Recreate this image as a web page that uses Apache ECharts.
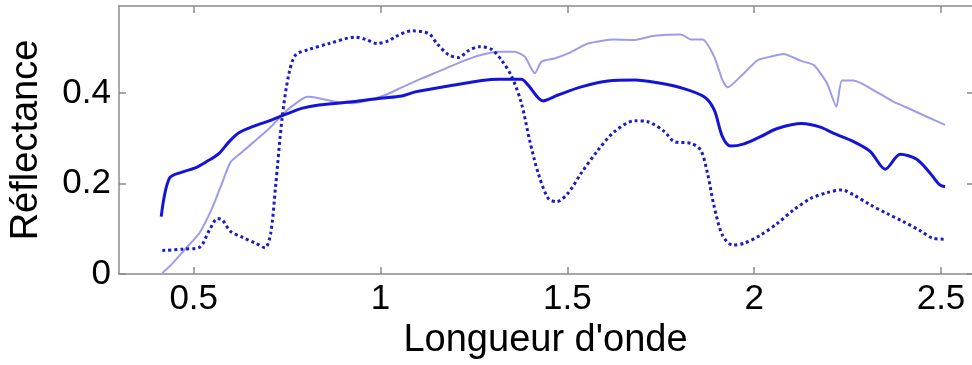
<!DOCTYPE html>
<html><head><meta charset="utf-8">
<script src="https://cdn.jsdelivr.net/npm/echarts@6/dist/echarts.min.js"></script>
<style>html,body{margin:0;padding:0;background:#fff}#c{width:972px;height:365px}</style>
</head><body><div id="c"></div>
<script>
const xTicks = [0.5, 1, 1.5, 2, 2.5];
const yTicks = [0, 0.2, 0.4];

const solidX = [0.413,0.435,0.471,0.502,0.533,0.568,0.595,0.622,0.657,0.702,0.742,0.791,0.835,0.924,1.0,1.057,1.093,1.182,1.271,1.315,1.377,1.395,1.435,1.475,1.537,1.609,1.68,1.742,1.804,1.866,1.893,1.915,1.937,1.973,2.017,2.062,2.128,2.177,2.213,2.266,2.311,2.351,2.391,2.435,2.471,2.497,2.511];
const solidY = [0.127,0.212,0.226,0.234,0.248,0.267,0.293,0.313,0.326,0.339,0.352,0.367,0.374,0.381,0.389,0.394,0.403,0.416,0.428,0.431,0.431,0.418,0.383,0.396,0.414,0.427,0.429,0.423,0.412,0.392,0.363,0.304,0.283,0.288,0.304,0.322,0.333,0.325,0.311,0.293,0.271,0.232,0.265,0.254,0.223,0.197,0.193];

const dotX = [0.416,0.471,0.515,0.542,0.564,0.577,0.599,0.631,0.666,0.691,0.706,0.719,0.737,0.755,0.773,0.809,0.862,0.933,0.960,0.991,1.022,1.039,1.084,1.129,1.151,1.182,1.209,1.235,1.266,1.297,1.324,1.351,1.377,1.399,1.422,1.449,1.471,1.502,1.537,1.582,1.626,1.680,1.715,1.760,1.786,1.831,1.857,1.875,1.893,1.915,1.942,1.973,2.017,2.062,2.106,2.151,2.195,2.235,2.266,2.311,2.355,2.399,2.444,2.479,2.511];
const dotY = [0.052,0.055,0.059,0.097,0.123,0.119,0.094,0.081,0.068,0.058,0.090,0.193,0.348,0.444,0.485,0.497,0.510,0.524,0.519,0.510,0.516,0.525,0.538,0.532,0.510,0.485,0.479,0.494,0.503,0.497,0.473,0.437,0.378,0.296,0.223,0.167,0.160,0.179,0.223,0.274,0.315,0.339,0.337,0.315,0.293,0.289,0.274,0.223,0.149,0.086,0.064,0.068,0.086,0.112,0.142,0.167,0.180,0.186,0.175,0.153,0.134,0.116,0.096,0.079,0.077];

const lightX = [0.416,0.444,0.479,0.515,0.551,0.577,0.599,0.631,0.666,0.702,0.737,0.764,0.804,0.835,0.879,0.924,0.969,1.013,1.057,1.111,1.164,1.217,1.271,1.315,1.359,1.386,1.413,1.431,1.466,1.502,1.555,1.626,1.680,1.733,1.804,1.831,1.862,1.893,1.915,1.929,1.964,2.009,2.044,2.079,2.124,2.160,2.195,2.220,2.235,2.266,2.319,2.373,2.407,2.462,2.511];
const lightY = [0.002,0.024,0.057,0.090,0.149,0.204,0.248,0.271,0.296,0.322,0.352,0.372,0.392,0.389,0.381,0.378,0.385,0.396,0.413,0.433,0.451,0.470,0.485,0.492,0.492,0.481,0.444,0.470,0.477,0.488,0.510,0.519,0.518,0.527,0.530,0.519,0.519,0.481,0.429,0.413,0.437,0.473,0.481,0.487,0.472,0.462,0.422,0.370,0.428,0.428,0.407,0.381,0.369,0.348,0.330];

const pairs = (xs, ys) => xs.map((x, i) => [x, ys[i]]);
const FONT = '"Liberation Sans", Arial, sans-serif';
const axisColor = '#8a8a8a';
const X_MIN = 0.3, X_MAX = 2.583, Y_MAX = 0.593;

const chart = echarts.init(document.getElementById('c'), null, {renderer: 'canvas'});
chart.setOption({
  animation: false,
  backgroundColor: '#fff',
  grid: {left: 116, right: 0, top: 6, bottom: 91, containLabel: false},
  xAxis: [{
    type: 'value', min: X_MIN, max: X_MAX, position: 'bottom',
    name: "Longueur d'onde", nameLocation: 'middle', nameGap: 43,
    nameTextStyle: {fontFamily: FONT, fontSize: 38, color: '#000'},
    axisLine: {show: true, onZero: false, lineStyle: {color: axisColor, width: 1.5}},
    axisTick: {show: true, inside: true, length: 7, customValues: xTicks, lineStyle: {color: axisColor, width: 1.5}},
    axisLabel: {show: true, customValues: xTicks, margin: 8, fontFamily: FONT, fontSize: 35, color: '#000', formatter: v => String(v)},
    splitLine: {show: false}
  }, {
    type: 'value', min: X_MIN, max: X_MAX, position: 'top',
    axisLine: {show: true, onZero: false, lineStyle: {color: axisColor, width: 1.5}},
    axisTick: {show: true, inside: true, length: 7, customValues: xTicks, lineStyle: {color: axisColor, width: 1.5}},
    axisLabel: {show: false}, splitLine: {show: false}
  }],
  yAxis: [{
    type: 'value', min: 0, max: Y_MAX, position: 'left',
    name: 'Réflectance', nameLocation: 'middle', nameGap: 73,
    nameTextStyle: {fontFamily: FONT, fontSize: 38, color: '#000'},
    axisLine: {show: true, onZero: false, lineStyle: {color: axisColor, width: 1.5}},
    axisTick: {show: true, inside: true, length: 7, customValues: yTicks, lineStyle: {color: axisColor, width: 1.5}},
    axisLabel: {show: true, customValues: yTicks, margin: 8, fontFamily: FONT, fontSize: 35, color: '#000', formatter: v => String(v)},
    splitLine: {show: false}
  }, {
    type: 'value', min: 0, max: Y_MAX, position: 'right',
    axisLine: {show: false},
    axisTick: {show: true, inside: true, length: 5, customValues: yTicks, lineStyle: {color: axisColor, width: 1.5}},
    axisLabel: {show: false}, splitLine: {show: false}
  }],
  series: [{
    type: 'line', data: pairs(lightX, lightY), showSymbol: false, smooth: 0.2,
    lineStyle: {color: '#9c9ce8', width: 2}, z: 1
  }, {
    type: 'line', data: pairs(solidX, solidY), showSymbol: false, smooth: 0.3,
    lineStyle: {color: '#1414d8', width: 3}, z: 2
  }, {
    type: 'line', data: pairs(dotX, dotY), showSymbol: false, smooth: 0.3,
    lineStyle: {color: '#1a1ac8', width: 3, type: 'dotted'}, z: 3
  }]
});
</script></body></html>
